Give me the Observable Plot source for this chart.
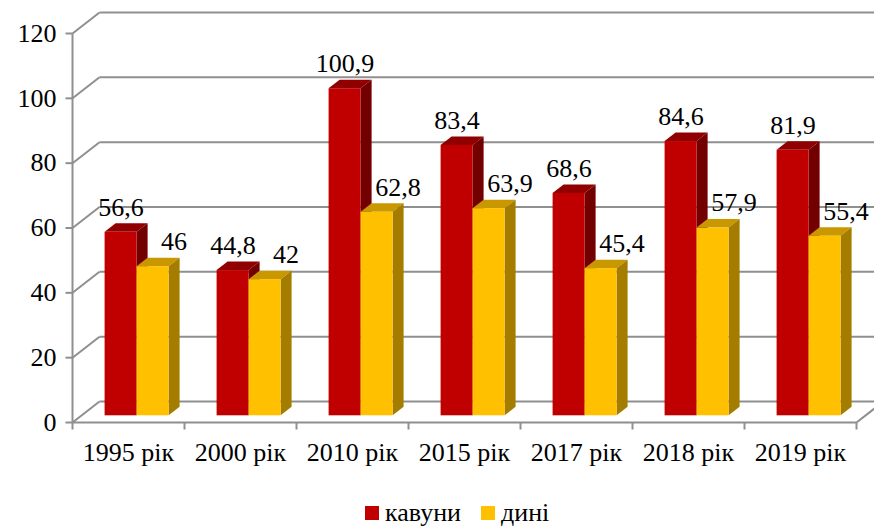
<!DOCTYPE html>
<html><head><meta charset="utf-8">
<script src="https://cdn.jsdelivr.net/npm/d3@7"></script>
<script src="https://cdn.jsdelivr.net/npm/@observablehq/plot@0.6"></script>
<style>
html,body{margin:0;padding:0;background:#fff;overflow:hidden;width:874px;height:527px;}
#wrap{position:relative;width:874px;height:527px;}
#legend{position:absolute;left:365px;top:498px;display:flex;align-items:center;font-family:"Liberation Serif","Times New Roman",serif;font-size:26px;color:#000;line-height:30px;}
#legend .sw{display:inline-block;width:14px;height:14px;margin-right:6px;}
#legend .item{display:flex;align-items:center;margin-right:20px;}
</style></head>
<body><div id="wrap"><div id="chart"></div><div id="legend"></div></div>
<script>
// ---- data ----
const years = ["1995 рік", "2000 рік", "2010 рік", "2015 рік", "2017 рік", "2018 рік", "2019 рік"];
const kavuny = [56.6, 44.8, 100.9, 83.4, 68.6, 84.6, 81.9];
const dyni = [46, 42, 62.8, 63.9, 45.4, 57.9, 55.4];
const yTicks = [0, 20, 40, 60, 80, 100, 120];
const seriesNames = ["кавуни", "дині"];

// ---- style / layout ----
const frontColors = ["#C00000", "#FFC000"];
const topColors = ["#900000", "#C99700"];
const sideColors = ["#730000", "#A47C00"];
const gridColor = "#8f8f8f";
const FONT = "'Liberation Serif', 'Times New Roman', serif";
const FS = 26;
const W = 874, H = 490, ML = 72, MR = 18, MT = 33, MB = 68;
const n = years.length;
const yMax = 120;
const pxPerX = (W - ML - MR) / n;
const pxPerY = (H - MT - MB) / yMax;
const toX = px => px / pxPerX;          // screen px -> x data units
const toY = px => -px / pxPerY;         // screen px (down +) -> y data units
const wall = {x: 27, y: -21};
const plane = {x: 8.6, y: -6.7};
const depth = {x: 11, y: -8.5};
const barW = 32;

const values = [kavuny, dyni];
const bars = [];
values.forEach((arr, s) => arr.forEach((v, i) => {
  const c = i + 0.5;
  bars.push({id: s * 100 + i, s, i, v,
    x1: s === 0 ? c - toX(barW) : c,
    x2: s === 0 ? c : c + toX(barW)});
}));
const tops = bars.flatMap(b => [
  {id: b.id, s: b.s, y: b.v, x1: b.x1, x2: b.x2},
  {id: b.id, s: b.s, y: b.v + toY(depth.y), x1: b.x1 + toX(depth.x), x2: b.x2 + toX(depth.x)}
]);
const sides = bars.flatMap(b => [
  {id: b.id, s: b.s, x: b.x2, y1: 0, y2: b.v},
  {id: b.id, s: b.s, x: b.x2 + toX(depth.x), y1: toY(depth.y), y2: b.v + toY(depth.y)}
]);

const barMarks = [];
[0, 1].forEach(s => {
  barMarks.push(
    Plot.areaX(tops.filter(d => d.s === s), {y: "y", x1: "x1", x2: "x2", z: "id", fill: topColors[s], dx: plane.x, dy: plane.y}),
    Plot.areaY(sides.filter(d => d.s === s), {x: "x", y1: "y1", y2: "y2", z: "id", fill: sideColors[s], dx: plane.x, dy: plane.y}),
    Plot.rect(bars.filter(d => d.s === s), {x1: "x1", x2: "x2", y1: () => 0, y2: "v", fill: frontColors[s], dx: plane.x, dy: plane.y})
  );
});

const fmt = v => String(v).replace(".", ",");
const txt = {fill: "#000", fontFamily: FONT, fontSize: FS};

const chart = Plot.plot({
  width: W, height: H,
  marginLeft: ML, marginRight: MR, marginTop: MT, marginBottom: MB,
  style: {fontFamily: FONT, fontSize: FS + "px", color: "#000", background: "#fff", overflow: "visible"},
  x: {domain: [0, n], axis: null},
  y: {domain: [0, yMax], axis: null},
  marks: [
    // back wall gridlines
    Plot.link(yTicks, {x1: () => toX(wall.x), x2: () => n + toX(wall.x), y1: d => d + toY(wall.y), y2: d => d + toY(wall.y), stroke: gridColor, strokeWidth: 2}),
    // side wall diagonals
    Plot.link(yTicks, {x1: () => 0, x2: () => toX(wall.x), y1: d => d, y2: d => d + toY(wall.y), stroke: gridColor, strokeWidth: 2}),
    // floor right diagonal
    Plot.link([0], {x1: () => n, x2: () => n + toX(wall.x), y1: () => 0, y2: () => toY(wall.y), stroke: gridColor, strokeWidth: 2}),
    // front axes
    Plot.link([0], {x1: () => 0, x2: () => 0, y1: () => 0, y2: () => yMax, stroke: gridColor, strokeWidth: 2}),
    Plot.link([0], {x1: () => 0, x2: () => n, y1: () => 0, y2: () => 0, stroke: gridColor, strokeWidth: 2}),
    // y ticks and labels
    Plot.link(yTicks, {x1: () => toX(-7), x2: () => 0, y1: d => d, y2: d => d, stroke: gridColor, strokeWidth: 2}),
    Plot.text(yTicks, {x: () => 0, y: d => d, text: d => String(d), textAnchor: "end", dx: -16, ...txt}),
    // x ticks and labels
    Plot.link(d3.range(n + 1), {x1: d => d, x2: d => d, y1: () => 0, y2: () => toY(7), stroke: gridColor, strokeWidth: 2}),
    Plot.text(years, {x: (d, i) => i + 0.5, y: () => 0, text: d => d, dy: 30, ...txt}),
    // bars
    ...barMarks,
    // value labels
    Plot.text(bars.filter(d => d.s === 0), {x: d => (d.x1 + d.x2) / 2, y: "v", text: d => fmt(d.v), dx: plane.x, dy: plane.y - 25, ...txt}),
    Plot.text(bars.filter(d => d.s === 1), {x: d => (d.x1 + d.x2) / 2, y: "v", text: d => fmt(d.v), dx: plane.x + 21, dy: plane.y - 25, ...txt})
  ]
});
document.getElementById("chart").appendChild(chart);

const legend = document.getElementById("legend");
seriesNames.forEach((name, s) => {
  const item = document.createElement("span");
  item.className = "item";
  const sw = document.createElement("span");
  sw.className = "sw";
  sw.style.background = frontColors[s];
  item.appendChild(sw);
  item.appendChild(document.createTextNode(name));
  legend.appendChild(item);
});
</script>
</body></html>
